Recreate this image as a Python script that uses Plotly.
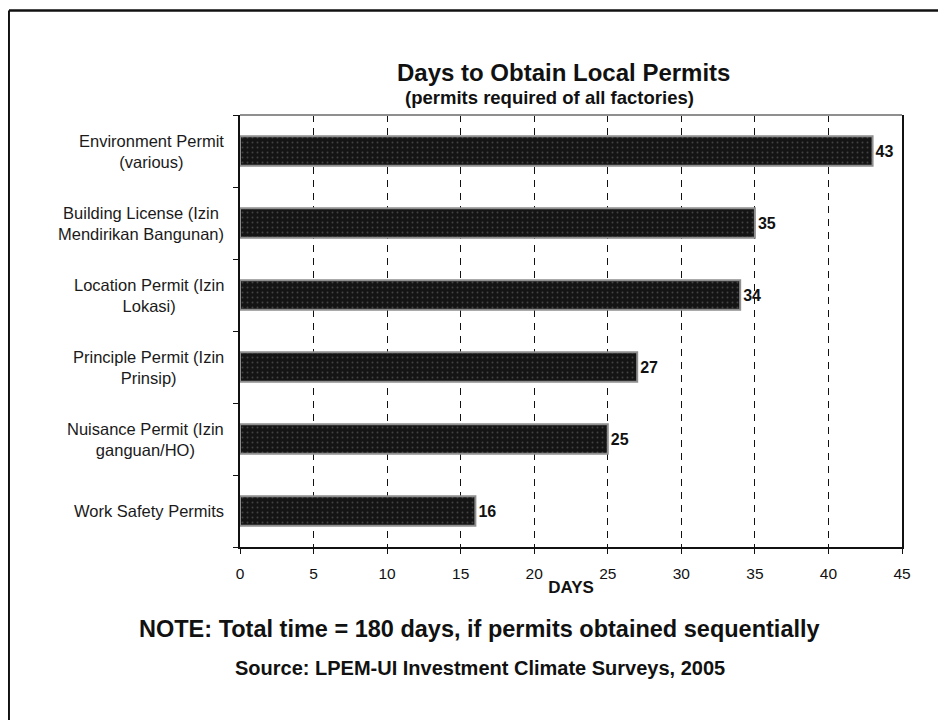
import plotly.graph_objects as go

categories = [
    "Environment Permit<br>(various)",
    "Building License (Izin<br>Mendirikan Bangunan)",
    "Location Permit (Izin<br>Lokasi)",
    "Principle Permit (Izin<br>Prinsip)",
    "Nuisance Permit (Izin<br>ganguan/HO)",
    "Work Safety Permits",
]
days = [43, 35, 34, 27, 25, 16]
x_ticks = [0, 5, 10, 15, 20, 25, 30, 35, 40, 45]

title = "Days to Obtain Local Permits"
subtitle = "(permits required of all factories)"
note = "NOTE: Total time = 180 days, if permits obtained sequentially"
source = "Source: LPEM-UI Investment Climate Surveys, 2005"

FONT = "Liberation Sans, Arial, sans-serif"
INK = "#111111"

fig = go.Figure()
fig.add_trace(go.Bar(
    y=categories,
    x=days,
    orientation="h",
    width=0.41,
    marker=dict(
        color="#141414",
        line=dict(color="#8f8f8f", width=2),
        pattern=dict(shape=".", fgcolor="#707070", bgcolor="#141414", size=5, solidity=0.12),
    ),
    text=[str(v) for v in days],
    textposition="outside",
    textfont=dict(family=FONT, size=16, color=INK),
    texttemplate="<b>%{text}</b>",
    cliponaxis=False,
    showlegend=False,
))

fig.update_yaxes(
    categoryorder="array",
    categoryarray=categories[::-1],
    showticklabels=False,
    ticks="outside",
    tickson="boundaries",
    ticklen=5,
    tickcolor=INK,
    showline=True,
    linecolor=INK,
    linewidth=1.5,
    mirror=True,
    showgrid=False,
    zeroline=False,
)
fig.update_xaxes(
    range=[0, 45],
    tickvals=x_ticks,
    ticktext=[str(t) for t in x_ticks],
    ticks="outside",
    ticklen=5,
    tickcolor=INK,
    tickfont=dict(family=FONT, size=15.5, color=INK),
    ticklabelstandoff=7,
    showline=True,
    linecolor=INK,
    linewidth=1.5,
    showgrid=True,
    gridcolor=INK,
    gridwidth=1.3,
    griddash="7px,6px",
    zeroline=False,
    title=dict(text="<b>DAYS</b>", font=dict(family=FONT, size=17, color=INK), standoff=0),
)

for cat in categories:
    fig.add_annotation(
        x=0, xref="paper", y=cat, yref="y",
        xshift=-14, xanchor="right", yanchor="middle",
        text=cat, showarrow=False, align="center",
        font=dict(family=FONT, size=16.5, color="#1a1a1a"),
    )

fig.add_annotation(x=0.488, xref="paper", y=1.0984, yref="paper", yanchor="middle",
                   text="<b>" + title + "</b>",
                   showarrow=False, font=dict(family=FONT, size=24, color=INK))
fig.add_annotation(x=0.468, xref="paper", y=1.0394, yref="paper", yanchor="middle",
                   text="<b>" + subtitle + "</b>",
                   showarrow=False, font=dict(family=FONT, size=18.5, color=INK))
fig.add_annotation(x=0.3625, xref="paper", y=-0.1898, yref="paper", yanchor="middle",
                   text="<b>" + note + "</b>",
                   showarrow=False, font=dict(family=FONT, size=23.5, color=INK))
fig.add_annotation(x=0.3625, xref="paper", y=-0.2801, yref="paper", yanchor="middle",
                   text="<b>" + source + "</b>",
                   showarrow=False, font=dict(family=FONT, size=20, color=INK))

# plot top border (gray)
fig.add_shape(type="line", xref="paper", yref="paper", x0=0, x1=1, y0=1, y1=1,
              line=dict(color="#8f8f8f", width=2))
# page frame (top and left edges)
fig.add_shape(type="line", xref="paper", yref="paper", x0=-0.349, x1=1.08, y0=1.2419, y1=1.2419,
              line=dict(color=INK, width=2.5))
fig.add_shape(type="line", xref="paper", yref="paper", x0=-0.349, x1=-0.349, y0=1.2419, y1=-0.42,
              line=dict(color=INK, width=2))

fig.update_layout(
    width=946, height=720,
    margin=dict(l=232, r=52, t=107, b=181),
    paper_bgcolor="white", plot_bgcolor="white",
    bargap=0.59,
    font=dict(family=FONT, color=INK),
)

fig.write_html("out.html")
